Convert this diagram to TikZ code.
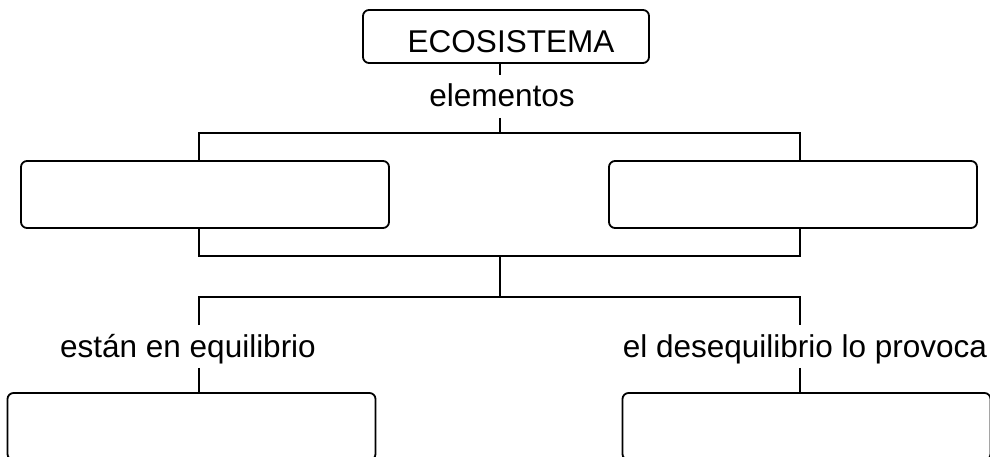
\documentclass[tikz,border=0pt]{standalone}
\usepackage{fontspec}
\setmainfont{Liberation Sans}
\begin{document}
\begin{tikzpicture}[x=1pt,y=-1pt,line width=1.8pt,
            caja/.style={draw,rounded corners=6pt,inner sep=0pt,minimum width=368pt,minimum height=67pt},
            rotulo/.style={font=\fontsize{31.5}{38}\selectfont,text height=24pt,text depth=3pt,inner sep=7pt,anchor=base}]
            \useasboundingbox (0,0) rectangle (990,457);
            \node[caja,minimum width=286pt,minimum height=53pt,text height=33pt,text depth=0pt,font=\fontsize{31.5}{38}\selectfont] (eco) at (506,36.5) {\hspace*{10pt}ECOSISTEMA};
            \node[caja] (izq) at (205,194.5) {};
            \node[caja] (der) at (793,194.5) {};
            \node[caja] (ab1) at (191.5,426.5) {};
            \node[caja] (ab2) at (806.5,426.5) {};
            \node[rotulo] (elem) at (502,107) {elementos};
            \node[rotulo] (equi) at (188,357) {están en equilibrio};
            \node[rotulo] (deseq) at (805,357) {el desequilibrio lo provoca};
            \coordinate (ja) at (500,133);
            \coordinate (jb) at (500,256);
            \coordinate (jc) at (500,297);
            \coordinate (xl) at (199,0);
            \coordinate (xr) at (800,0);
            \draw (eco.south -| ja) -- (elem.north -| ja);
            \draw (elem.south -| ja) -- (ja);
            \draw (izq.north -| xl) |- (ja) -| (der.north -| xr);
            \draw (izq.south -| xl) |- (jb) -| (der.south -| xr);
            \draw (jb) -- (jc);
            \draw (equi.north -| xl) |- (jc) -| (deseq.north -| xr);
            \draw (equi.south -| xl) -- (ab1.north -| xl);
            \draw (deseq.south -| xr) -- (ab2.north -| xr);
        \end{tikzpicture}
\end{document}
